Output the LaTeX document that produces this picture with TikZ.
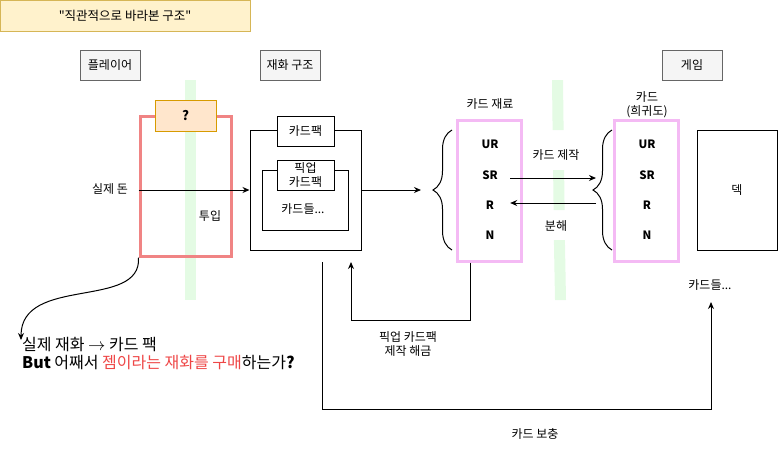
\documentclass[tikz,border=0pt]{standalone}
\usepackage{fontspec}
\setmainfont{Noto Sans CJK KR}
\usetikzlibrary{arrows.meta,decorations.pathreplacing}
\definecolor{notefill}{HTML}{FFF2CC}
\definecolor{noteline}{HTML}{D6B656}
\definecolor{grayfill}{HTML}{F5F5F5}
\definecolor{grayline}{HTML}{666666}
\definecolor{askfill}{HTML}{FFE6CC}
\definecolor{askline}{HTML}{D79B00}
\definecolor{spendline}{HTML}{F08484}
\definecolor{gradeline}{HTML}{F4BAF4}
\definecolor{splitbar}{HTML}{E4FBE4}
\definecolor{gemred}{HTML}{EE4646}
\tikzset{
  notebox/.style={draw=noteline, fill=notefill, line width=1pt, inner sep=0pt,
    font=\fontsize{12.5}{14}\selectfont},
  graybox/.style={draw=grayline, fill=grayfill, line width=1pt, inner sep=0pt,
    minimum width=60pt, minimum height=30pt, font=\fontsize{12}{14}\selectfont},
  plainbox/.style={draw, line width=1pt, inner sep=0pt, align=center,
    font=\fontsize{12}{14}\selectfont},
  gradebox/.style={draw=gradeline, line width=3pt, inner sep=0pt,
    minimum width=64pt, minimum height=141pt},
  lbl/.style={inner sep=0pt, align=center, font=\fontsize{12}{14}\selectfont},
  grade/.style={inner sep=0pt, minimum width=40pt, font=\bfseries\fontsize{11.5}{13}\selectfont},
  arr/.style={line width=1pt, -{Stealth[length=7pt,width=6pt]}},
  bracket/.style={decorate, decoration={brace, amplitude=19pt}, line width=1pt}
}
\begin{document}
\begin{tikzpicture}[x=1pt, y=-1pt]
  \useasboundingbox (0,0) rectangle (778,451);

  \fill[splitbar] (185,80) rectangle (196,300);
  \fill[splitbar] (552,80) -- (563,80) -- (563.6,130) -- (552.6,130) -- cycle;
  \fill[splitbar] (553.1,170) -- (564.1,170) -- (564.6,210) -- (553.6,210) -- cycle;
  \fill[splitbar] (553.9,240) -- (564.9,240) -- (566,300) -- (555,300) -- cycle;

  \node[notebox, minimum width=250pt, minimum height=31pt] (title) at (125,15.5) {\textquotedbl 직관적으로 바라본 구조\textquotedbl};

  \node[graybox] (player) at (110,65) {플레이어};
  \node[graybox] (economy) at (290,65) {재화 구조};
  \node[graybox] (game) at (692,65) {게임};

  \node[draw=spendline, line width=3pt, minimum width=91pt, minimum height=140pt] (spend) at (185.5,186) {};
  \node[draw=askline, fill=askfill, line width=1pt, inner sep=0pt, minimum width=61pt, minimum height=31pt,
    font=\bfseries\fontsize{13}{15}\selectfont] (ask) at (185.5,115.5) {?};
  \node[lbl] (money) at (110,189) {실제 돈};
  \node[lbl] (invest) at (210,216) {투입};

  \node[plainbox, minimum width=111pt, minimum height=120pt] (store) at (305.5,190) {};
  \node[plainbox, minimum width=86pt, minimum height=60pt] (cardsbox) at (305,200) {};
  \node[plainbox, fill=white, minimum width=57pt, minimum height=30pt] (pack) at (305.5,131) {카드팩};
  \node[plainbox, fill=white, minimum width=57pt, minimum height=30pt, font=\fontsize{12}{13.5}\selectfont] (pickup) at (305.5,175) {픽업\\카드팩};
  \node[lbl] (cards) at (303,209) {카드들...};

  \draw[arr] (spend.west |- store.west) -- (store.west);

  \node[lbl] (matlabel) at (490,104) {카드 재료};
  \node[gradebox] (mats) at (489,190.5) {};
  \node[grade] (ur1) at (490,144) {UR};
  \node[grade] (sr1) at (490,175) {SR};
  \node[grade] (r1) at (490,205) {R};
  \node[grade] (n1) at (490,235) {N};
  \draw[bracket] (452,250) -- (452,130);
  \coordinate (matsin) at (421,190);
  \draw[arr] (store.east) -- (matsin);

  \node[lbl] (cardlabel) at (647,104.5) {카드\\(희귀도)};
  \node[gradebox] (grades) at (646,190.5) {};
  \node[grade] (ur2) at (647,144) {UR};
  \node[grade] (sr2) at (647,175) {SR};
  \node[grade] (r2) at (647,205) {R};
  \node[grade] (n2) at (647,235) {N};
  \draw[bracket] (612,250) -- (612,130);

  \coordinate (craftend) at (596,178);
  \coordinate (splitstart) at (596,203);
  \draw[arr] (sr1.east |- craftend) -- (craftend);
  \draw[arr] (splitstart) -- (r1.east |- splitstart);
  \node[lbl] (craft) at (556,155) {카드 제작};
  \node[lbl] (split) at (556,226) {분해};

  \node[plainbox, minimum width=80pt, minimum height=120pt] (deck) at (737,190) {덱};
  \node[lbl] (deckcards) at (710,285) {카드들...};

  \coordinate (unlockbend) at (470.5,320);
  \coordinate (unlock) at (351,262);
  \draw[arr] (mats.south -| unlockbend) -- (unlockbend) -| (unlock);
  \node[lbl] (unlocklabel) at (408,343.5) {픽업 카드팩\\제작 해금};

  \coordinate (refillstart) at (322,262);
  \coordinate (refillend) at (711,302);
  \draw[arr] (refillstart) -- (322,409) -| (refillend);
  \node[lbl] (refill) at (535,434) {카드 보충};

  \coordinate (questionend) at (21,340);
  \draw[arr] (spend.south west) .. controls (142,310) and (21,275) .. (questionend);
  \node[inner sep=0pt, anchor=north west, align=left, font=\fontsize{16}{18}\selectfont] (question) at (22,337)
    {실제 재화 $\rightarrow$ 카드 팩\\{\bfseries But} 어째서 \textcolor{gemred}{젬이라는 재화를 구매}하는가{\bfseries ?}};
\end{tikzpicture}
\end{document}
